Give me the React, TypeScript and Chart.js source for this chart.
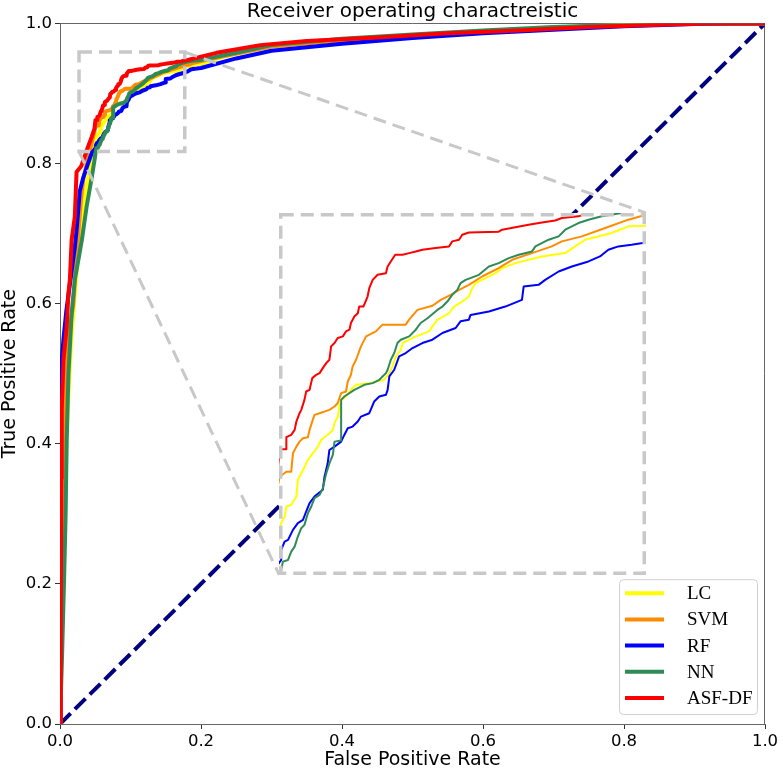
import React, { useEffect, useRef } from 'react';
import { Chart, registerables } from 'chart.js';

Chart.register(...registerables);

// ---------- text ----------
const TITLE = 'Receiver operating charactreistic';
const X_LABEL = 'False Positive Rate';
const Y_LABEL = 'True Positive Rate';
const AXIS_TICKS = [0, 0.2, 0.4, 0.6, 0.8, 1.0];
const SERIES_LABELS = ['LC', 'SVM', 'RF', 'NN', 'ASF-DF'];

// ---------- ROC curves: [false positive rate, true positive rate] ----------
const LC_POINTS: [number, number][] = [
  [0, 0], [0.002, 0.1], [0.005, 0.2], [0.007, 0.3], [0.009, 0.4], [0.012, 0.47], [0.016, 0.55], [0.02, 0.6],
  [0.024, 0.65], [0.028, 0.69], [0.033, 0.74], [0.04, 0.78], [0.046, 0.81],
  [0.0509, 0.8356], [0.0523, 0.838], [0.053, 0.8416], [0.055, 0.8422], [0.0571, 0.8452], [0.0577, 0.8511],
  [0.0598, 0.8547], [0.0618, 0.8583], [0.0638, 0.8607], [0.0659, 0.8631], [0.0672, 0.8655], [0.0706, 0.8679],
  [0.072, 0.8691], [0.0727, 0.8715], [0.074, 0.8739], [0.0747, 0.8775], [0.0754, 0.8799], [0.0774, 0.8811],
  [0.0794, 0.8835], [0.0815, 0.8853], [0.0869, 0.8859], [0.093, 0.8871], [0.0951, 0.8895], [0.0964, 0.8919],
  [0.0978, 0.8955], [0.0998, 0.8979], [0.1005, 0.9003], [0.1059, 0.9027], [0.1113, 0.9045], [0.1127, 0.9063],
  [0.1147, 0.9086], [0.1195, 0.911], [0.1215, 0.9134], [0.1249, 0.9152], [0.1276, 0.917], [0.129, 0.92],
  [0.1303, 0.9218], [0.1385, 0.9254], [0.1412, 0.9272], [0.1466, 0.929], [0.1575, 0.9314], [0.167, 0.9326],
  [0.171, 0.935], [0.1751, 0.9374], [0.186, 0.9398], [0.1928, 0.9422], [0.2, 0.9424],
  [0.23, 0.952], [0.3, 0.968], [0.4, 0.977], [0.5, 0.983], [0.6, 0.989], [0.7, 0.994], [0.8, 0.998], [0.88, 1.0], [1, 1],
];

const SVM_POINTS: [number, number][] = [
  [0, 0], [0.001, 0.1], [0.002, 0.2], [0.004, 0.35], [0.006, 0.45], [0.009, 0.52], [0.013, 0.56], [0.019, 0.6],
  [0.022, 0.65], [0.026, 0.7], [0.03, 0.75], [0.033, 0.777], [0.039, 0.805], [0.046, 0.834],
  [0.0503, 0.8523], [0.053, 0.8541], [0.055, 0.8541], [0.0557, 0.8607], [0.0571, 0.8631], [0.0584, 0.8649],
  [0.0598, 0.8661], [0.0618, 0.8665], [0.0625, 0.8691], [0.0638, 0.8727], [0.0645, 0.8745], [0.0666, 0.8751],
  [0.0706, 0.8763], [0.0727, 0.8775], [0.074, 0.8787], [0.0754, 0.8823], [0.0774, 0.8829], [0.0781, 0.8865],
  [0.0794, 0.8889], [0.0801, 0.8919], [0.0815, 0.8943], [0.0835, 0.8991], [0.0856, 0.9027], [0.0896, 0.9045],
  [0.0923, 0.9069], [0.1018, 0.9069], [0.1032, 0.9087], [0.1066, 0.9122], [0.1127, 0.9137], [0.1161, 0.9158],
  [0.1202, 0.9176], [0.1236, 0.9194], [0.1276, 0.9212], [0.133, 0.9242], [0.1398, 0.9272], [0.1453, 0.9302],
  [0.1534, 0.9326], [0.1615, 0.935], [0.1656, 0.9368], [0.1738, 0.9386], [0.1833, 0.9416], [0.1928, 0.9446],
  [0.2, 0.9464],
  [0.24, 0.955], [0.3, 0.967], [0.4, 0.976], [0.5, 0.982], [0.6, 0.988], [0.7, 0.993], [0.8, 0.997], [0.9, 1.0], [1, 1],
];

const RF_POINTS: [number, number][] = [
  [0, 0], [0.0005, 0.2], [0.001, 0.4], [0.0015, 0.47], [0.0025, 0.52], [0.005, 0.55], [0.009, 0.59], [0.013, 0.62],
  [0.017, 0.65], [0.021, 0.68], [0.024, 0.71], [0.028, 0.76], [0.033, 0.78], [0.038, 0.795], [0.045, 0.815],
  [0.0509, 0.8224], [0.0509, 0.826], [0.0523, 0.829], [0.0537, 0.8296], [0.0557, 0.8332], [0.0577, 0.8356],
  [0.0598, 0.8368], [0.0611, 0.8398], [0.0625, 0.8428], [0.0645, 0.8452], [0.0679, 0.8476], [0.0686, 0.8523],
  [0.0699, 0.8571], [0.0706, 0.8619], [0.0727, 0.8631], [0.0754, 0.8649], [0.0767, 0.8673], [0.0781, 0.8697],
  [0.0801, 0.8703], [0.0822, 0.8721], [0.0835, 0.8739], [0.0869, 0.8751], [0.0889, 0.8793], [0.091, 0.8811],
  [0.0937, 0.8817], [0.0944, 0.8835], [0.0951, 0.8883], [0.0971, 0.8907], [0.0991, 0.8955], [0.1018, 0.8967],
  [0.1046, 0.8985], [0.1086, 0.9003], [0.1127, 0.9015], [0.1168, 0.9039], [0.1222, 0.9057], [0.1242, 0.9081],
  [0.1276, 0.9087], [0.1283, 0.9104], [0.1358, 0.9116], [0.1425, 0.9134], [0.1493, 0.9158], [0.15, 0.9206],
  [0.1561, 0.9212], [0.1588, 0.923], [0.1643, 0.926], [0.1697, 0.9278], [0.1765, 0.9296], [0.1812, 0.9314],
  [0.1846, 0.9338], [0.1887, 0.935], [0.1941, 0.9356], [0.2, 0.9364],
  [0.25, 0.95], [0.3, 0.961], [0.4, 0.971], [0.5, 0.979], [0.6, 0.986], [0.7, 0.991], [0.8, 0.996], [0.9, 0.999], [0.95, 1.0], [1, 1],
];

const NN_POINTS: [number, number][] = [
  [0, 0], [0.003, 0.1], [0.006, 0.215], [0.008, 0.3], [0.0095, 0.405], [0.012, 0.5], [0.0165, 0.586], [0.021, 0.634],
  [0.026, 0.662], [0.031, 0.691], [0.038, 0.74], [0.045, 0.78], [0.049, 0.805],
  [0.0509, 0.8188], [0.0516, 0.8218], [0.0537, 0.8224], [0.055, 0.8254], [0.0564, 0.8272], [0.0577, 0.8308],
  [0.0591, 0.8338], [0.0604, 0.835], [0.0618, 0.8392], [0.0632, 0.8416], [0.0645, 0.8446], [0.0666, 0.8458],
  [0.0679, 0.8481], [0.0693, 0.8535], [0.0706, 0.8571], [0.072, 0.8601], [0.0727, 0.8649], [0.0754, 0.8653],
  [0.0754, 0.8799], [0.0767, 0.8811], [0.0808, 0.8835], [0.0849, 0.8853], [0.0883, 0.8859], [0.091, 0.8871],
  [0.0937, 0.8895], [0.0944, 0.8907], [0.0957, 0.8943], [0.0971, 0.8967], [0.0984, 0.9003], [0.0998, 0.9015],
  [0.1032, 0.9027], [0.1059, 0.9051], [0.1079, 0.9075], [0.1107, 0.9092], [0.1147, 0.9122], [0.1168, 0.9134],
  [0.1188, 0.9152], [0.1208, 0.9176], [0.1229, 0.9194], [0.1242, 0.9218], [0.1263, 0.923], [0.1317, 0.9248],
  [0.1358, 0.9278], [0.1398, 0.929], [0.1439, 0.9308], [0.148, 0.932], [0.1534, 0.9332], [0.1548, 0.935],
  [0.1602, 0.9374], [0.1643, 0.9386], [0.167, 0.941], [0.1724, 0.9434], [0.1765, 0.9446], [0.1819, 0.9458],
  [0.19, 0.947], [0.2, 0.9479],
  [0.25, 0.958], [0.3, 0.969], [0.4, 0.978], [0.5, 0.984], [0.6, 0.99], [0.7, 0.995], [0.8, 0.998], [0.87, 1.0], [1, 1],
];

const ASFDF_POINTS: [number, number][] = [
  [0, 0], [0.001, 0.15], [0.002, 0.35], [0.0025, 0.45], [0.005, 0.52], [0.0095, 0.567], [0.012, 0.615], [0.014, 0.634],
  [0.0165, 0.691], [0.021, 0.724], [0.0235, 0.788], [0.03, 0.796], [0.035, 0.81], [0.039, 0.822], [0.045, 0.838], [0.049, 0.85],
  [0.0503, 0.8622], [0.053, 0.8622], [0.053, 0.8665], [0.055, 0.8673], [0.0564, 0.8691], [0.0571, 0.8721],
  [0.0584, 0.8751], [0.0591, 0.8763], [0.0604, 0.8799], [0.0611, 0.8829], [0.0625, 0.8835], [0.0636, 0.8877],
  [0.0652, 0.8889], [0.0666, 0.8895], [0.0679, 0.8913], [0.0693, 0.8931], [0.0706, 0.8943], [0.0713, 0.8991],
  [0.0727, 0.9003], [0.074, 0.9021], [0.0761, 0.9027], [0.0774, 0.9045], [0.0788, 0.9051], [0.0794, 0.9075],
  [0.0808, 0.9098], [0.0822, 0.911], [0.0828, 0.9134], [0.0845, 0.9134], [0.0862, 0.917], [0.0869, 0.92],
  [0.0883, 0.923], [0.0903, 0.9248], [0.0937, 0.9254], [0.0944, 0.9278], [0.0957, 0.9296], [0.0975, 0.932],
  [0.1005, 0.932], [0.1032, 0.9326], [0.1059, 0.9332], [0.1086, 0.9338], [0.114, 0.9344], [0.1195, 0.935],
  [0.1208, 0.9368], [0.1236, 0.9374], [0.1249, 0.9392], [0.1276, 0.94], [0.1398, 0.9403], [0.1412, 0.941],
  [0.1466, 0.9419], [0.152, 0.9428], [0.1575, 0.9436], [0.1629, 0.9443], [0.1656, 0.9452], [0.1724, 0.9458],
  [0.1765, 0.947], [0.1826, 0.9482],
  [0.222, 0.958], [0.284, 0.969], [0.35, 0.975], [0.45, 0.98], [0.55, 0.986], [0.65, 0.99], [0.75, 0.995], [0.85, 0.998], [0.92, 1.0], [1, 1],
];

const CHANCE_POINTS: [number, number][] = [[0, 0], [1, 1]];

const SERIES_POINTS = [LC_POINTS, SVM_POINTS, RF_POINTS, NN_POINTS, ASFDF_POINTS];

// ---------- zoom regions (data units) ----------
const ZOOM_MARK_X = [0.027, 0.177];
const ZOOM_MARK_Y = [0.817, 0.959];
const INSET_BOX_X = [0.311, 0.831];
const INSET_BOX_Y = [0.2127, 0.7295];
const INSET_VIEW_X = [0.05, 0.2];
const INSET_VIEW_Y = [0.817, 0.947];

// ---------- styles ----------
const SERIES_COLORS = ['#ffff00', '#ff8c00', '#0000ff', '#2e8b57', '#ff0000'];
const CHANCE_COLOR = '#000080';
const MARK_COLOR = '#c8c8c8';
const SPINE_COLOR = '#666666';
const SANS = '"DejaVu Sans", sans-serif';
const SERIF = '"Liberation Serif", "Times New Roman", serif';

const W = 783;
const H = 771;

function makeSeries(lineWidth: number) {
  return SERIES_POINTS.map((pts, i) => ({
    label: SERIES_LABELS[i],
    data: pts.map(([x, y]) => ({ x, y })),
    showLine: true,
    borderColor: SERIES_COLORS[i],
    backgroundColor: SERIES_COLORS[i],
    borderWidth: lineWidth,
    borderJoinStyle: 'round',
    pointRadius: 0,
    pointHoverRadius: 0,
    fill: false,
    tension: 0,
    clip: 0,
    order: SERIES_LABELS.length - i,
  }));
}

const framePlugin = {
  id: 'frame',
  beforeDatasetsDraw(chart: any) {
    const { ctx, chartArea: a } = chart;
    ctx.save();
    ctx.strokeStyle = SPINE_COLOR;
    ctx.lineWidth = 1;
    ctx.beginPath();
    const t = Math.round(a.top) + 0.5;
    const r = Math.round(a.right) - 0.5;
    ctx.moveTo(a.left, t);
    ctx.lineTo(r, t);
    ctx.lineTo(r, a.bottom);
    ctx.stroke();
    ctx.restore();
  },
};

const zoomMarkPlugin = {
  id: 'zoomMark',
  afterDatasetsDraw(chart: any) {
    const { ctx } = chart;
    const xs = chart.scales.x;
    const ys = chart.scales.y;
    const mx0 = xs.getPixelForValue(ZOOM_MARK_X[0]);
    const mx1 = xs.getPixelForValue(ZOOM_MARK_X[1]);
    const myB = ys.getPixelForValue(ZOOM_MARK_Y[0]);
    const myT = ys.getPixelForValue(ZOOM_MARK_Y[1]);
    const bx0 = xs.getPixelForValue(INSET_BOX_X[0]);
    const bx1 = xs.getPixelForValue(INSET_BOX_X[1]);
    const byB = ys.getPixelForValue(INSET_BOX_Y[0]);
    const byT = ys.getPixelForValue(INSET_BOX_Y[1]);
    ctx.save();
    ctx.strokeStyle = MARK_COLOR;
    ctx.setLineDash([13, 7]);
    ctx.lineWidth = 3.5;
    ctx.strokeRect(mx0, myT, mx1 - mx0, myB - myT);
    ctx.lineWidth = 3;
    ctx.beginPath();
    ctx.moveTo(mx1, myT);
    ctx.lineTo(bx1, byT);
    ctx.moveTo(mx0, myB);
    ctx.lineTo(bx0, byB);
    ctx.stroke();
    ctx.restore();
  },
};

const legendPlugin = {
  id: 'lowerRightLegend',
  afterDraw(chart: any) {
    const { ctx, chartArea: a } = chart;
    const items = chart.data.datasets.filter((d: any) => d.label);
    const boxW = 138;
    const rowH = 26.2;
    const boxH = 14 + rowH * (items.length - 1) + 16;
    const x0 = a.right - 8 - boxW;
    const y0 = a.bottom - 10 - boxH;
    ctx.save();
    ctx.beginPath();
    if (ctx.roundRect) ctx.roundRect(x0 + 0.5, y0 + 0.5, boxW, boxH, 4);
    else ctx.rect(x0 + 0.5, y0 + 0.5, boxW, boxH);
    ctx.fillStyle = 'rgba(255,255,255,0.8)';
    ctx.fill();
    ctx.strokeStyle = '#d0d0d0';
    ctx.lineWidth = 1;
    ctx.stroke();
    ctx.font = `19px ${SERIF}`;
    ctx.textBaseline = 'middle';
    ctx.textAlign = 'left';
    items.forEach((d: any, i: number) => {
      const cy = y0 + 14 + i * rowH;
      ctx.beginPath();
      ctx.strokeStyle = d.borderColor;
      ctx.lineWidth = 4;
      ctx.moveTo(x0 + 6, cy);
      ctx.lineTo(x0 + 45, cy);
      ctx.stroke();
      ctx.fillStyle = '#000';
      ctx.fillText(d.label, x0 + 68, cy + 1);
    });
    ctx.restore();
  },
};

const insetBgPlugin = {
  id: 'insetBg',
  beforeDraw(chart: any) {
    const { ctx, width, height } = chart;
    ctx.save();
    ctx.fillStyle = '#ffffff';
    ctx.fillRect(0, 0, width, height);
    ctx.restore();
  },
  afterDraw(chart: any) {
    const { ctx, width, height } = chart;
    ctx.save();
    ctx.strokeStyle = MARK_COLOR;
    ctx.setLineDash([13, 7]);
    ctx.lineWidth = 3.5;
    ctx.strokeRect(1.75, 1.75, width - 3.5, height - 3.5);
    ctx.restore();
  },
};

export default function App() {
  const mainRef = useRef<HTMLCanvasElement>(null);
  const insetRef = useRef<HTMLCanvasElement>(null);

  useEffect(() => {
    const mainCanvas = mainRef.current as HTMLCanvasElement;
    const insetCanvas = insetRef.current as HTMLCanvasElement;

    const tickFont = { family: SANS, size: 16.5 };
    const titleFont = { family: SANS, size: 19, weight: 'normal' as const };

    const main = new Chart(mainCanvas, {
      type: 'scatter',
      data: {
        datasets: [
          ...makeSeries(4),
          {
            label: '',
            data: CHANCE_POINTS.map(([x, y]) => ({ x, y })),
            showLine: true,
            borderColor: CHANCE_COLOR,
            backgroundColor: CHANCE_COLOR,
            borderWidth: 4,
            borderDash: [15, 6],
            pointRadius: 0,
            pointHoverRadius: 0,
            fill: false,
            clip: 0,
            order: 10,
          } as any,
        ],
      },
      options: {
        responsive: false,
        animation: false,
        events: [],
        layout: { padding: { left: 0, right: 18, top: 0, bottom: 0 } },
        plugins: {
          legend: { display: false },
          tooltip: { enabled: false },
          title: {
            display: true,
            text: TITLE,
            fullSize: false,
            color: '#000',
            font: { family: SANS, size: 20, weight: 'normal', lineHeight: 1.17 },
            padding: 0,
          },
        },
        scales: {
          x: {
            type: 'linear',
            min: 0,
            max: 1,
            afterFit: (s: any) => { s.height = 47; },
            afterBuildTicks: (s: any) => { s.ticks = AXIS_TICKS.map((v) => ({ value: v })); },
            ticks: {
              callback: (v: any) => Number(v).toFixed(1),
              color: '#000',
              font: tickFont,
              padding: 3,
              maxRotation: 0,
              autoSkip: false,
            },
            grid: { display: true, drawOnChartArea: false, drawTicks: true, tickLength: 5, tickColor: '#333', tickWidth: 1 },
            border: { display: true, color: SPINE_COLOR, width: 1 },
            title: { display: true, text: X_LABEL, color: '#000', font: { ...titleFont, lineHeight: 1.2 }, padding: 0 },
          },
          y: {
            type: 'linear',
            min: 0,
            max: 1,
            afterFit: (s: any) => { s.width = 60; },
            afterBuildTicks: (s: any) => { s.ticks = AXIS_TICKS.map((v) => ({ value: v })); },
            ticks: {
              callback: (v: any) => Number(v).toFixed(1),
              color: '#000',
              font: tickFont,
              padding: 3,
              autoSkip: false,
            },
            grid: { display: true, drawOnChartArea: false, drawTicks: true, tickLength: 5, tickColor: '#333', tickWidth: 1 },
            border: { display: true, color: SPINE_COLOR, width: 1 },
            title: { display: true, text: Y_LABEL, color: '#000', font: { ...titleFont, lineHeight: 1.1 }, padding: 0 },
          },
        },
      } as any,
      plugins: [framePlugin, zoomMarkPlugin, legendPlugin],
    });

    const xs: any = main.scales.x;
    const ys: any = main.scales.y;
    const left = Math.round(xs.getPixelForValue(INSET_BOX_X[0]));
    const right = Math.round(xs.getPixelForValue(INSET_BOX_X[1]));
    const top = Math.round(ys.getPixelForValue(INSET_BOX_Y[1]));
    const bottom = Math.round(ys.getPixelForValue(INSET_BOX_Y[0]));
    const iw = right - left;
    const ih = bottom - top;
    insetCanvas.width = iw;
    insetCanvas.height = ih;
    insetCanvas.style.left = `${left}px`;
    insetCanvas.style.top = `${top}px`;
    insetCanvas.style.width = `${iw}px`;
    insetCanvas.style.height = `${ih}px`;

    const inset = new Chart(insetCanvas, {
      type: 'scatter',
      data: { datasets: makeSeries(2) as any },
      options: {
        responsive: false,
        animation: false,
        events: [],
        layout: { padding: 0 },
        plugins: { legend: { display: false }, tooltip: { enabled: false }, title: { display: false } },
        scales: {
          x: { type: 'linear', display: false, min: INSET_VIEW_X[0], max: INSET_VIEW_X[1] },
          y: { type: 'linear', display: false, min: INSET_VIEW_Y[0], max: INSET_VIEW_Y[1] },
        },
      } as any,
      plugins: [insetBgPlugin],
    });

    return () => {
      inset.destroy();
      main.destroy();
    };
  }, []);

  return (
    <div style={{ position: 'fixed', left: 0, top: 0, width: W, height: H, background: '#fff', overflow: 'hidden' }}>
      <canvas ref={mainRef} width={W} height={H} style={{ position: 'absolute', left: 0, top: 0, width: W, height: H }} />
      <canvas ref={insetRef} style={{ position: 'absolute' }} />
    </div>
  );
}
